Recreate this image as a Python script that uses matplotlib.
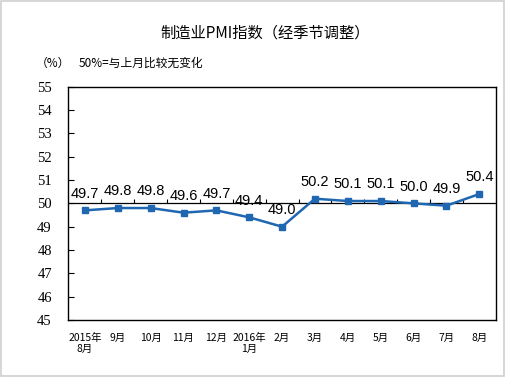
import matplotlib
matplotlib.use("Agg")
import matplotlib.pyplot as plt
from matplotlib.patches import Rectangle

plt.rcParams['font.family'] = ['Noto Sans CJK SC', 'DejaVu Sans']

categories = ["2015年\n8月", "9月", "10月", "11月", "12月", "2016年\n1月", "2月",
              "3月", "4月", "5月", "6月", "7月", "8月"]
pmi = [49.7, 49.8, 49.8, 49.6, 49.7, 49.4, 49.0, 50.2, 50.1, 50.1, 50.0, 49.9, 50.4]
yticks = [45, 46, 47, 48, 49, 50, 51, 52, 53, 54, 55]
title = "制造业PMI指数（经季节调整）"
unit = "（%）"
note = "50%=与上月比较无变化"

fig = plt.figure(figsize=(5.08, 3.78), dpi=100)
fig.patch.set_facecolor("white")
fig.add_artist(Rectangle((0.001, 0.004), 0.991, 0.993, transform=fig.transFigure,
                         fill=False, edgecolor="#d0d0d0", linewidth=1.2))

ax = fig.add_axes([0.1348, 0.1534, 0.8410, 0.6172])
x = list(range(len(pmi)))
color = "#1f67b1"
ax.plot(x, pmi, color=color, linewidth=1.8, marker="s", markersize=4.8, zorder=3)
for xi, v in zip(x, pmi):
    ax.annotate(f"{v:.1f}", (xi, v), xytext=(0, 7), textcoords="offset points",
                ha="center", va="bottom", fontsize=10.5, family="Liberation Sans", zorder=4)

ax.axhline(50, color="black", linewidth=0.9, zorder=2)
ax.vlines([i + 0.5 for i in range(len(pmi) - 1)], 50, 50.17, color="black", linewidth=0.8, zorder=2)

ax.set_xlim(-0.5, len(pmi) - 0.5)
ax.set_ylim(45, 55)
ax.set_yticks(yticks)
ax.set_yticklabels([str(t) for t in yticks], family="Liberation Serif", fontsize=10.5)
ax.tick_params(axis="y", direction="in", length=4, width=0.8, pad=12)
ax.set_xticks(x)
ax.set_xticklabels(categories, fontsize=7.5, linespacing=1.2)
ax.tick_params(axis="x", length=0, pad=9)
for s in ax.spines.values():
    s.set_linewidth(1.0)
    s.set_color("black")

fig.text(0.522, 0.912, title, ha="center", va="center", fontsize=11)
fig.text(0.07, 0.833, unit, ha="left", va="center", fontsize=8.5)
fig.text(0.155, 0.833, note, ha="left", va="center", fontsize=8.5)

fig.savefig("out.png", dpi=100)
